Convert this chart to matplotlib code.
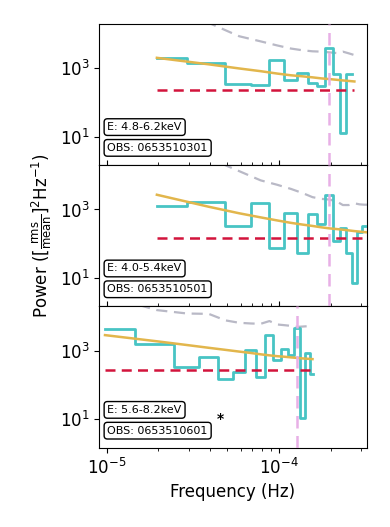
import numpy as np
import matplotlib
matplotlib.use("Agg")
import matplotlib.pyplot as plt
from matplotlib.ticker import FixedLocator, NullLocator

# ---------------- data ----------------
# Panel 1: E 4.8-6.2 keV, OBS 0653510301
freq1 = [1.96e-5, 3.92e-5, 5.88e-5, 7.84e-5, 9.80e-5, 1.176e-4, 1.372e-4,
         1.568e-4, 1.764e-4, 1.96e-4, 2.156e-4, 2.352e-4, 2.548e-4, 2.744e-4]
logpow1 = [3.30, 3.15, 2.53, 2.50, 3.23, 2.66, 2.85, 2.56, 2.48, 3.58,
           2.82, 1.10, 2.82, np.nan]
logmodel1 = [3.30, 3.11, 2.99, 2.91, 2.84, 2.79, 2.76, 2.73, 2.70, 2.68,
             2.66, 2.64, 2.625, 2.61]
logsig1 = [5.00, 4.32, 3.93, 3.78, 3.66, 3.57, 3.52, 3.49, 3.48, 3.46,
           3.44, 3.48, 3.43, 3.38]
noise1 = 230.0
qpo1 = 1.96e-4

# Panel 2: E 4.0-5.4 keV, OBS 0653510501
freq2 = [1.96e-5, 3.92e-5, 5.88e-5, 7.84e-5, 9.80e-5, 1.176e-4, 1.372e-4,
         1.568e-4, 1.764e-4, 1.96e-4, 2.156e-4, 2.352e-4, 2.548e-4, 2.744e-4,
         2.94e-4, 3.136e-4, 3.332e-4]
logpow2 = [3.09, 3.22, 2.51, 3.19, 1.885, 2.90, 1.73, 2.865, 2.59, 3.42,
           2.07, 2.46, 1.72, 0.85, 2.34, 2.51, 2.51]
logmodel2 = [3.43, 3.08, 2.89, 2.77, 2.68, 2.61, 2.56, 2.52, 2.48, 2.45,
             2.43, 2.41, 2.39, 2.37, 2.355, 2.34, 2.33]
logsig2 = [5.20, 4.50, 4.12, 3.85, 3.72, 3.60, 3.48, 3.36, 3.31, 3.29,
           3.24, 3.13, 3.13, 3.18, 3.15, 3.14, 3.14]
noise2 = 150.0
qpo2 = 1.96e-4

# Panel 3: E 5.6-8.2 keV, OBS 0653510601
freq3 = [9.8e-6, 1.96e-5, 2.94e-5, 3.92e-5, 4.90e-5, 5.88e-5, 6.86e-5,
         7.84e-5, 8.82e-5, 9.80e-5, 1.078e-4, 1.176e-4, 1.274e-4, 1.372e-4,
         1.47e-4, 1.568e-4]
logpow3 = [3.65, 3.19, 2.54, 2.825, 2.19, 2.37, 3.02, 2.24, 3.46, 2.74,
           3.06, 2.88, 3.66, 1.05, 2.95, 2.34]
logmodel3 = [3.46, 3.28, 3.17, 3.09, 3.03, 2.98, 2.94, 2.90, 2.87, 2.845,
             2.83, 2.81, 2.795, 2.78, 2.77, 2.76]
logsig3 = [4.62, 4.19, 4.09, 4.08, 3.89, 3.82, 3.80, 3.79, 3.87, 3.77,
           3.75, 3.73, 3.70, 3.71, 3.72, 3.75]
noise3 = 275.0
qpo3 = 1.276e-4

energies = ["E: 4.8-6.2keV", "E: 4.0-5.4keV", "E: 5.6-8.2keV"]
obsids = ["OBS: 0653510301", "OBS: 0653510501", "OBS: 0653510601"]
starred = [False, False, True]

panels = [
    (freq1, logpow1, logmodel1, logsig1, noise1, qpo1),
    (freq2, logpow2, logmodel2, logsig2, noise2, qpo2),
    (freq3, logpow3, logmodel3, logsig3, noise3, qpo3),
]

# ---------------- figure ----------------
fig = plt.figure(figsize=(3.9, 5.27), dpi=100)
left, right = 0.255, 0.940
bottom, top = 0.1505, 0.9554
h = (top - bottom) / 3
axes = []
for i in range(3):
    ax = fig.add_axes([left, top - (i + 1) * h, right - left, h])
    axes.append(ax)

cyan = "#48c4c4"
gold = "#e2b64c"
red = "#d2143c"
grey = "#b9b9c6"
pink = "#e8b0e6"

for i, (ax, (f, lp, lm, ls, nz, q)) in enumerate(zip(axes, panels)):
    f = np.asarray(f)
    ax.step(f, 10 ** np.asarray(lp), where="mid", color=cyan, lw=2.0, zorder=3)
    ax.plot(f, 10 ** np.asarray(lm), color=gold, lw=1.8, zorder=4)
    ax.plot(f, 10 ** np.asarray(ls), color=grey, lw=1.6, ls=(0, (5, 3)), zorder=2)
    ax.plot(f, np.full(len(f), nz), color=red, lw=1.8, ls=(0, (4, 2.5)), zorder=4)
    ax.axvline(q, color=pink, lw=1.8, ls=(0, (5, 3)), zorder=5)

    ax.set_xscale("log")
    ax.set_yscale("log")
    ax.set_xlim(9.1e-6, 3.23e-4)
    ax.set_ylim(1.5, 2.0e4)
    ax.yaxis.set_major_locator(FixedLocator([10.0, 1000.0]))
    ax.yaxis.set_minor_locator(NullLocator())
    ax.tick_params(axis="both", which="major", labelsize=12)
    if i < 2:
        ax.tick_params(axis="x", which="both", direction="in", labelbottom=False)

    bb = dict(boxstyle="round,pad=0.3", fc="white", ec="black", lw=1.0)
    ax.text(0.03, 0.085, obsids[i], transform=ax.transAxes, fontsize=8,
            ha="left", va="bottom", bbox=bb, zorder=10)
    ax.text(0.03, 0.232, energies[i], transform=ax.transAxes, fontsize=8,
            ha="left", va="bottom", bbox=bb, zorder=10)
    if starred[i]:
        ax.text(0.438, 0.155, "*", transform=ax.transAxes, fontsize=10,
                fontweight="bold", ha="left", va="bottom", zorder=10)

axes[2].set_xlabel("Frequency (Hz)", fontsize=12)
axes[1].set_ylabel(r"Power ($[\frac{\rm rms}{\rm mean}]^2$Hz$^{-1}$)", fontsize=12)

fig.savefig("out.png", dpi=100)
